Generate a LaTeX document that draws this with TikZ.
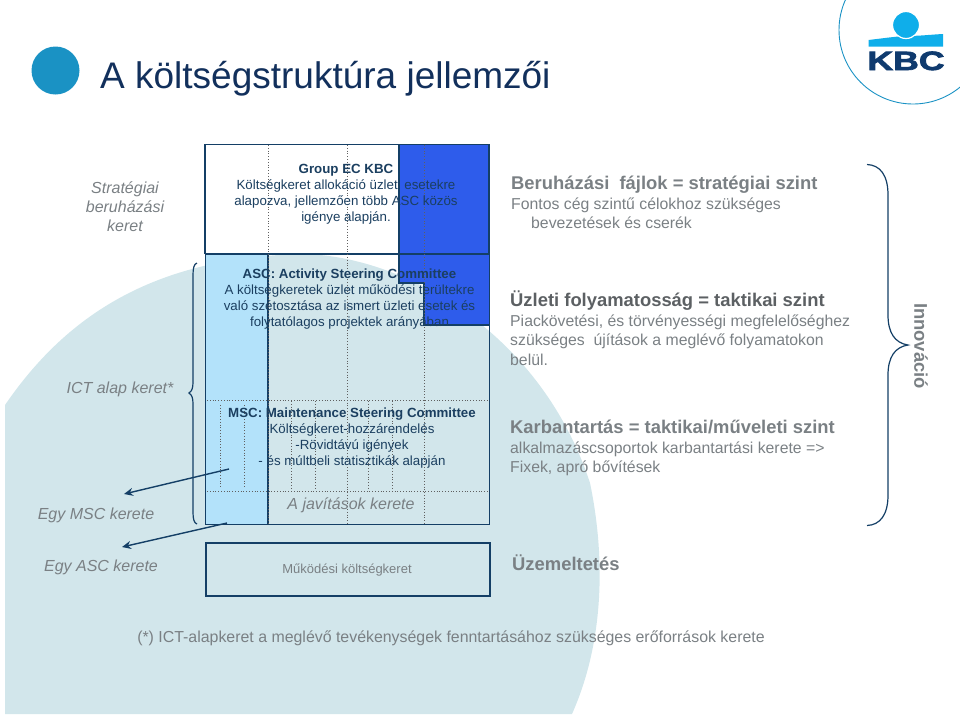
\documentclass[tikz,border=0pt]{standalone}
\usepackage{fontspec}
\setmainfont{Liberation Sans}
\newfontfamily\kbcfont[FakeBold=2.5]{Liberation Sans Bold}
\usetikzlibrary{arrows.meta}
\definecolor{navy}{HTML}{12305C}
\definecolor{boxline}{HTML}{143F66}
\definecolor{boxtext}{HTML}{1B3F60}
\definecolor{graytext}{HTML}{7A8084}
\definecolor{pale}{HTML}{D2E6EB}
\definecolor{paleblue}{HTML}{B3E2FA}
\definecolor{strong}{HTML}{2E5CEB}
\definecolor{kbcblue}{HTML}{1A92C4}
\definecolor{kbcsky}{HTML}{0FAEEA}
\definecolor{kbcnavy}{HTML}{0F3A6E}
\newcommand{\fs}[1]{\fontsize{#1}{#1}\selectfont}
\tikzset{
  x=1pt,y=-1pt,
  frame/.style={draw=boxline,line width=1.7pt},
  dots/.style={draw=gray!75!black,line width=.8pt,dotted},
  brace/.style={draw=boxline,line width=1.2pt},
  lead/.style={draw=boxline,line width=1.4pt,-{Stealth[length=9pt,width=8pt]}},
  boxlabel/.style={inner sep=0pt,align=center,text=boxtext,font=\fontsize{13.3}{15.9}\selectfont},
  sidelabel/.style={inner sep=0pt,align=center,text=graytext,font=\fontsize{16}{19}\selectfont\itshape},
  head/.style={inner sep=0pt,anchor=base west,text=graytext,font=\fontsize{18.4}{18.4}\selectfont\bfseries},
  body/.style={inner sep=0pt,anchor=base west,text=graytext,font=\fontsize{15.8}{15.8}\selectfont},
}
\begin{document}
\begin{tikzpicture}
\useasboundingbox (0,0) rectangle (960,716);
% pale backdrop
\fill[pale] (5,405) .. controls (70,310) and (160,258) .. (300,254) .. controls (400,254) and (540,330) .. (590,483) .. controls (605,555) and (605,640) .. (572,714) -- (5,714) -- cycle;
% logo
\begin{scope}
  \clip (0,0) rectangle (960,716);
  \draw[kbcblue,line width=.9pt] (913,30) circle [radius=74];
\end{scope}
\fill[kbcsky] (868.5,40) .. controls (885,38) and (900,36) .. (906,36) .. controls (920,36) and (932,34.5) .. (943,34) -- (943,46.5) -- (868.5,46.5) -- cycle;
\fill[kbcsky,draw=white,line width=1.2pt] (906,25) circle [radius=13.5];
\node[inner sep=0pt,text=kbcnavy,font=\fs{27}\kbcfont,xscale=1.32,yscale=.98,anchor=base] (kbc) at (906,70) {KBC};
% title
\fill[kbcblue] (55.5,70.5) circle [radius=24];
\node[inner sep=0pt,anchor=base west,text=navy,font=\fs{37}] (title) at (100,88) {A költségstruktúra jellemzői};
% coloured areas
\fill[white] (206,144) rectangle (489,253);
\fill[strong] (399,144) rectangle (489,283);
\fill[strong] (424,283) rectangle (489,325);
\fill[paleblue] (206,255) rectangle (268,525);
\draw[boxline,line width=1.4pt] (399,253) -- (399,283) -- (424,283) -- (424,325) -- (489,325);
% frames
\node[frame,inner sep=0pt,minimum width=284pt,minimum height=109pt] (ec) at (347,199) {};
\node[frame,inner sep=0pt,minimum width=90pt,minimum height=109pt] (ecblue) at (444,199) {};
\node[frame,inner sep=0pt,minimum width=284pt,minimum height=270pt] (main) at (347.5,389.5) {};
\node[frame,inner sep=0pt,minimum width=284pt,minimum height=53pt] (ops) at (348,569.5) {};
\draw[frame] (268,255) -- (268,525);
% dotted grid
\foreach \px in {268.5,347,424} \draw[dots] (\px,145) -- (\px,524);
\foreach \px in {291.5,315,368,392} \draw[dots] (\px,401) -- (\px,490);
\foreach \px in {220.5,244} \draw[dots] (\px,405) -- (\px,488);
\draw[dots] (207,400) -- (488,400);
\draw[dots] (207,491) -- (488,491);
% box texts
\node[boxlabel] (ectext) at (346,194.5) {\textbf{Group EC KBC}\\Költségkeret allokáció üzleti esetekre\\alapozva, jellemzően több ASC közös\\igénye alapján.};
\node[boxlabel] (asctext) at (349.5,299) {\textbf{ASC: Activity Steering Committee}\\A költségkeretek üzlet működési terültekre\\való szétosztása az ismert üzleti esetek és\\folytatólagos projektek arányában};
\node[boxlabel] (msctext) at (352,438) {\textbf{MSC: Maintenance Steering Committee}\\Költségkeret-hozzárendelés\\-Rövidtávú igények\\- és múltbeli statisztikák alapján};
\node[sidelabel] (repair) at (351,505) {A javítások kerete};
\node[inner sep=0pt,text=graytext,font=\fs{13}] (opstext) at (347,570) {Működési költségkeret};
% left labels
\node[sidelabel] (strat) at (125,207) {Stratégiai\\beruházási\\keret};
\node[sidelabel] (ict) at (120,389) {ICT alap keret*};
\node[sidelabel] (msc) at (96,515) {Egy MSC kerete};
\node[sidelabel] (asc) at (101,567) {Egy ASC kerete};
% arrows
\coordinate (mscfrom) at (229,469);
\coordinate (mscto) at (124,494);
\coordinate (ascfrom) at (227,523);
\coordinate (ascto) at (122,547);
\draw[lead] (mscfrom) -- (mscto);
\draw[lead] (ascfrom) -- (ascto);
% braces
\draw[brace] (197,263) .. controls (194,264) and (193,268) .. (193,275) -- (193,382) .. controls (193,388) and (192,391) .. (189,393) .. controls (192,395) and (193,398) .. (193,404) -- (193,512) .. controls (193,519) and (194,523) .. (197,524);
\draw[brace] (867,164.5) .. controls (880,165) and (888,175) .. (888,195) -- (888,315) .. controls (888,333) and (895,343) .. (908,345) .. controls (895,347) and (888,357) .. (888,375) -- (888,495) .. controls (888,515) and (880,525) .. (867,525.5);
% right column
\node[head] (t1) at (511,189) {Beruházási\ \ fájlok = stratégiai szint};
\node[body] (t1a) at (511,209) {Fontos cég szintű célokhoz szükséges};
\node[body] (t1b) at (531,228) {bevezetések és cserék};
\node[head,text=graytext!75!black] (t2) at (510,306) {Üzleti folyamatosság = taktikai szint};
\node[body] (t2a) at (510,326) {Piackövetési, és törvényességi megfelelőséghez};
\node[body] (t2b) at (510,345.5) {szükséges\ \ újítások a meglévő folyamatokon};
\node[body] (t2c) at (510,365) {belül.};
\node[head] (t3) at (510,433) {Karbantartás = taktikai/műveleti szint};
\node[body] (t3a) at (510,453) {alkalmazáscsoportok karbantartási kerete =>};
\node[body] (t3b) at (510,472) {Fixek, apró bővítések};
\node[head] (t4) at (512,570.5) {Üzemeltetés};
\node[inner sep=0pt,text=graytext,font=\fs{15.9}] (note) at (451,638) {(*) ICT-alapkeret a meglévő tevékenységek fenntartásához szükséges erőforrások kerete};
\node[inner sep=0pt,text=graytext,font=\fs{18.4}\bfseries,rotate=-90] (inno) at (921,346) {Innováció};
\end{tikzpicture}
\end{document}
